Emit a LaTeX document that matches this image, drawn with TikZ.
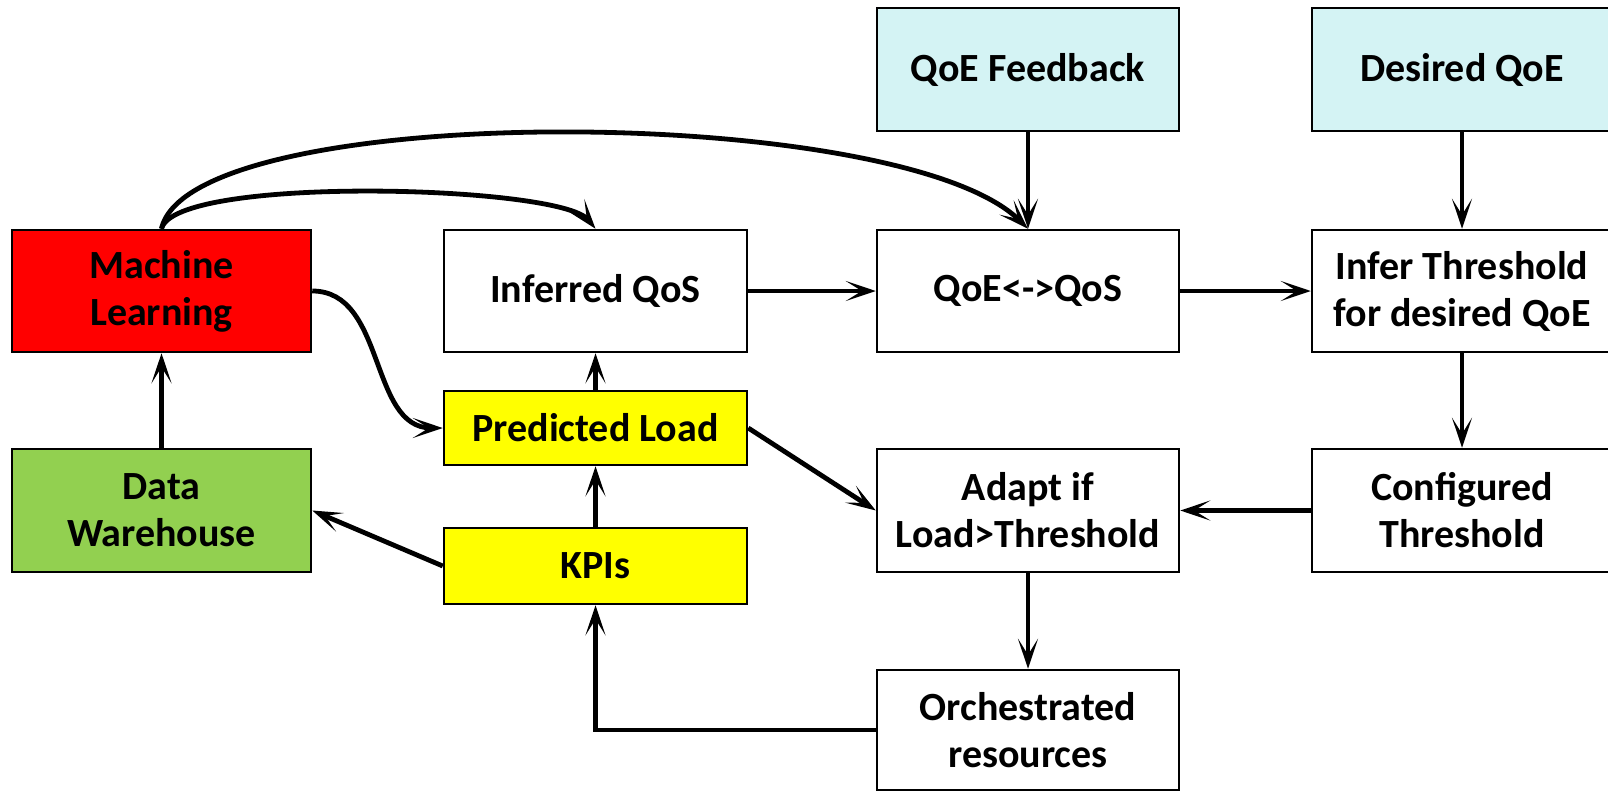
\documentclass[tikz,border=0pt]{standalone}
\usepackage{fontspec}
\setmainfont{Carlito}
\usetikzlibrary{arrows.meta}
\definecolor{mlred}{RGB}{255,0,0}
\definecolor{dwgreen}{RGB}{146,208,80}
\definecolor{kyellow}{RGB}{255,255,0}
\definecolor{lcyan}{RGB}{212,243,244}
\begin{document}
\begin{tikzpicture}[x=1pt,y=-1pt,
  box/.style={draw=black, line width=2.5pt, inner sep=0pt, align=center,
    font=\fontsize{40}{47}\selectfont\bfseries, minimum width=#1},
  box/.default=302pt,
  conn/.style={line width=4.8pt, -{Stealth[length=30pt,width=20pt,inset=16pt]}}
]
\useasboundingbox (0,0) rectangle (1608,792);
\clip (0,0) rectangle (1608,792);
\fill[white] (0,0) rectangle (1608,792);
% nodes
\node[box=299pt, fill=mlred, minimum height=122pt] (ml) at (161.5,291) {Machine\\Learning};
\node[box=299pt, fill=dwgreen, minimum height=123pt] (dw) at (161.5,510.5) {Data\\Warehouse};
\node[box=303pt, fill=white, minimum height=122pt] (inf) at (595.5,291) {Inferred QoS};
\node[box=303pt, fill=kyellow, minimum height=74pt] (pl) at (595.5,428) {Predicted Load};
\node[box=303pt, fill=kyellow, minimum height=76pt] (kpi) at (595.5,566) {KPIs};
\node[box=302pt, fill=lcyan, minimum height=123pt] (qfb) at (1028,69.5) {QoE Feedback};
\node[box=300pt, fill=lcyan, minimum height=123pt] (dq) at (1462,69.5) {Desired QoE};
\node[box=302pt, fill=white, minimum height=122pt] (qq) at (1028,291) {QoE<->QoS};
\node[box=300pt, fill=white, minimum height=122pt] (it) at (1462,291) {Infer Threshold\\for desired QoE};
\node[box=302pt, fill=white, minimum height=123pt] (ad) at (1028,510.5) {Adapt if\\Load>Threshold};
\node[box=300pt, fill=white, minimum height=123pt] (ct) at (1462,510.5) {Configured\\Threshold};
\node[box=302pt, fill=white, minimum height=120pt] (orc) at (1028,730) {Orchestrated\\resources};
% connectors
\draw[conn] (dw.north) -- (ml.south);
\draw[conn] (kpi.west) -- (dw.east);
\draw[conn] (kpi.north) -- (pl.south);
\draw[conn] (pl.north) -- (inf.south);
\draw[conn] (ml.east) to[out=0,in=180] (pl.west);
\draw[conn] (ml.north) .. controls (175,175) and (560,185) .. (inf.north);
\draw[conn] (ml.north) .. controls (190,100) and (900,102) .. (qq.north);
\draw[conn] (inf.east) -- (qq.west);
\draw[conn] (qq.east) -- (it.west);
\draw[conn] (qfb.south) -- (qq.north);
\draw[conn] (dq.south) -- (it.north);
\draw[conn] (it.south) -- (ct.north);
\draw[conn] (ct.west) -- (ad.east);
\draw[conn] (pl.east) -- (ad.west);
\draw[conn] (ad.south) -- (orc.north);
\draw[conn] (orc.west) -| (kpi.south);
\end{tikzpicture}
\end{document}
